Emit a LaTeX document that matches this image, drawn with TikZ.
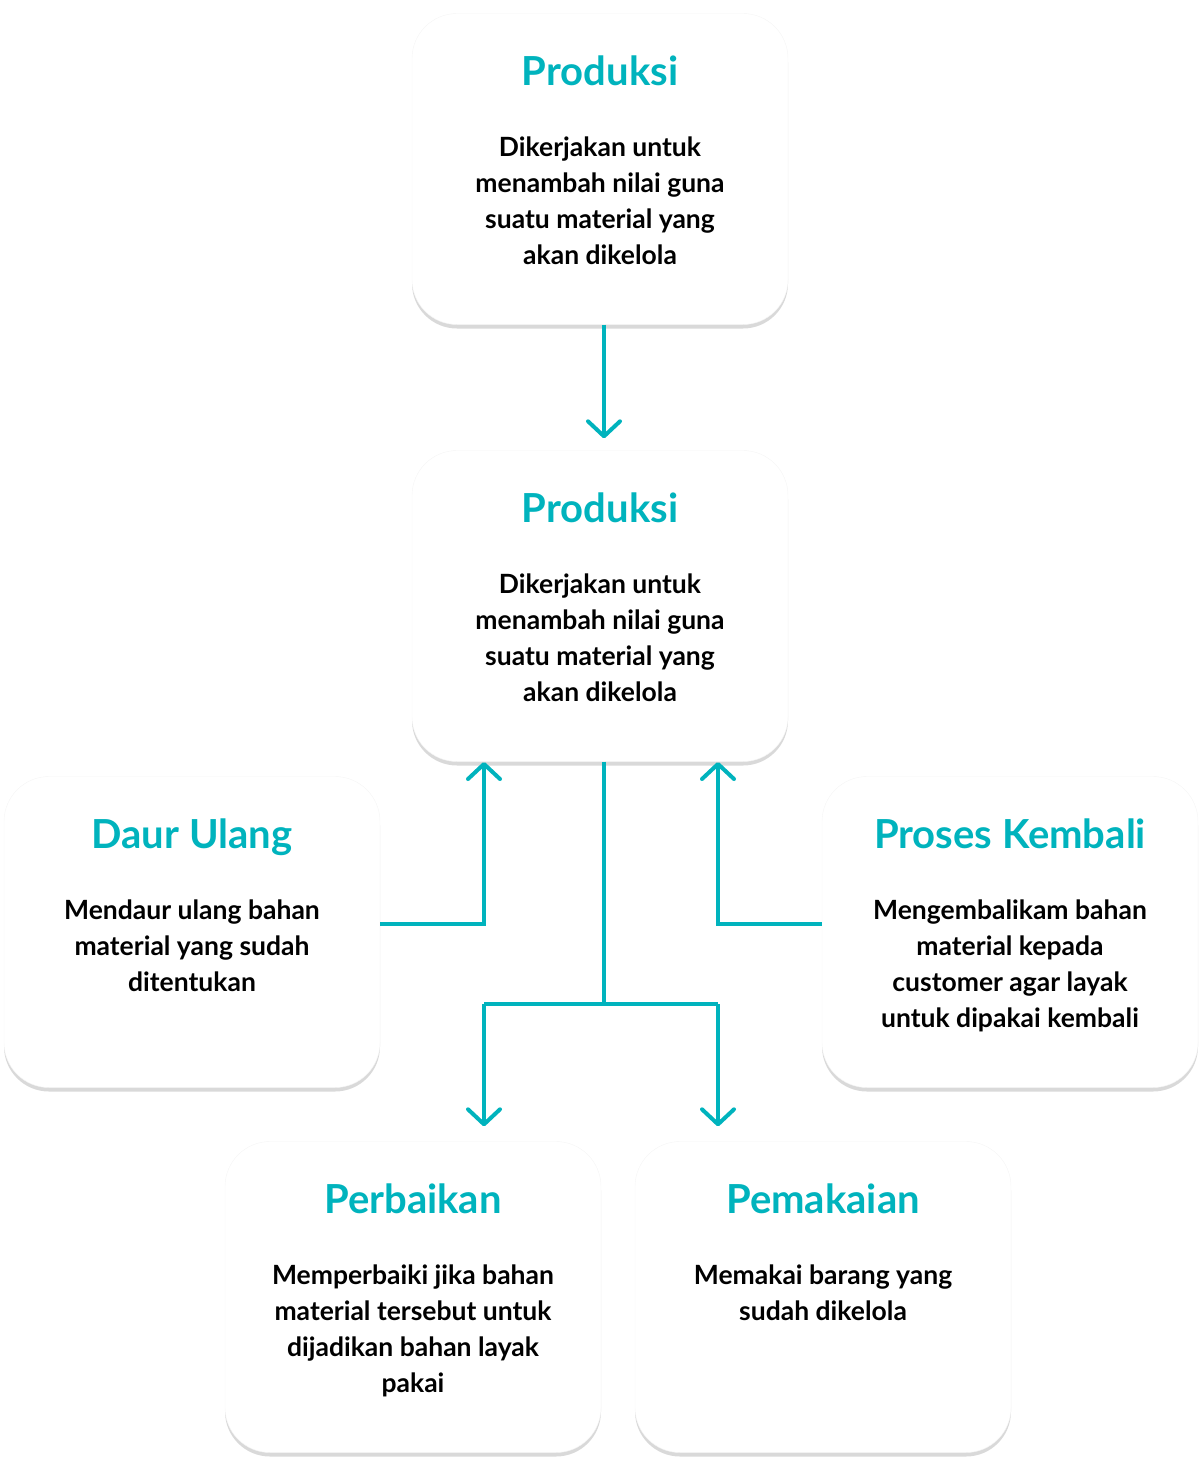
\documentclass[tikz,border=0pt]{standalone}
\usepackage{fontspec}
\setmainfont{Lato}
\usepackage{tikz}
\usetikzlibrary{arrows.meta,shadows,positioning}

\definecolor{teal1}{RGB}{0,179,189}

\tikzset{
  box/.style={rectangle, rounded corners=45pt, fill=white, draw=black!4,
    minimum width=376pt, minimum height=311pt,
    drop shadow={shadow xshift=0pt, shadow yshift=-4pt, fill=black, opacity=0.15}},
  title/.style={font=\fontsize{40}{44}\selectfont\bfseries, text=teal1,
    anchor=base},
  body/.style={font=\fontsize{26.5}{36}\selectfont\bfseries, align=center,
    inner sep=0pt, anchor=north},
  link/.style={draw=teal1, line width=4pt},
  arrow/.style={link, -{Straight Barb[length=15pt,width=32pt,round]}}
}

\begin{document}
\begin{tikzpicture}[x=1pt,y=-1pt]
  \useasboundingbox (0,0) rectangle (1202,1460);

  % kotak
  \node[box] (prod1) at (600,169) {};
  \node[box] (prod2) at (600,606) {};
  \node[box] (daur) at (192,932) {};
  \node[box] (proses) at (1010,932) {};
  \node[box] (perbaikan) at (413,1297) {};
  \node[box] (pemakaian) at (823,1297) {};

  % judul dan isi
  \node[title] (prod1T) at ([yshift=-72pt]prod1.north) {Produksi};
  \node[body] (prod1B) at ([yshift=-123pt]prod1.north)
    {Dikerjakan untuk\\menambah nilai guna\\suatu material yang\\akan dikelola};
  \node[title] (prod2T) at ([yshift=-72pt]prod2.north) {Produksi};
  \node[body] (prod2B) at ([yshift=-123pt]prod2.north)
    {Dikerjakan untuk\\menambah nilai guna\\suatu material yang\\akan dikelola};
  \node[title] (daurT) at ([yshift=-72pt]daur.north) {Daur Ulang};
  \node[body] (daurB) at ([yshift=-123pt]daur.north)
    {Mendaur ulang bahan\\material yang sudah\\ditentukan};
  \node[title] (prosesT) at ([yshift=-72pt]proses.north) {Proses Kembali};
  \node[body] (prosesB) at ([yshift=-123pt]proses.north)
    {Mengembalikam bahan\\material kepada\\customer agar layak\\untuk dipakai kembali};
  \node[title] (perbaikanT) at ([yshift=-72pt]perbaikan.north) {Perbaikan};
  \node[body] (perbaikanB) at ([yshift=-123pt]perbaikan.north)
    {Memperbaiki jika bahan\\material tersebut untuk\\dijadikan bahan layak\\pakai};
  \node[title] (pemakaianT) at ([yshift=-72pt]pemakaian.north) {Pemakaian};
  \node[body] (pemakaianB) at ([yshift=-123pt]pemakaian.north)
    {Memakai barang yang\\sudah dikelola};

  % titik bantu
  \coordinate (split) at (604,1004);
  \coordinate (kiri) at (484,1004);
  \coordinate (kanan) at (718,1004);
  \coordinate (naikKiri) at (484,762);
  \coordinate (naikKanan) at (718,762);

  % panah
  \draw[arrow, shorten >=12pt] (prod1.south -| split) -- (prod2.north -| split);
  \draw[link] (prod2.south -| split) -- (split);
  \draw[link] (kiri) -- (kanan);
  \draw[arrow, shorten >=15pt] (kiri) -- (perbaikan.north -| kiri);
  \draw[arrow, shorten >=15pt] (kanan) -- (pemakaian.north -| kanan);
  \draw[arrow] ([yshift=8pt]daur.east) -| (naikKiri);
  \draw[arrow] ([yshift=8pt]proses.west) -| (naikKanan);
\end{tikzpicture}
\end{document}
